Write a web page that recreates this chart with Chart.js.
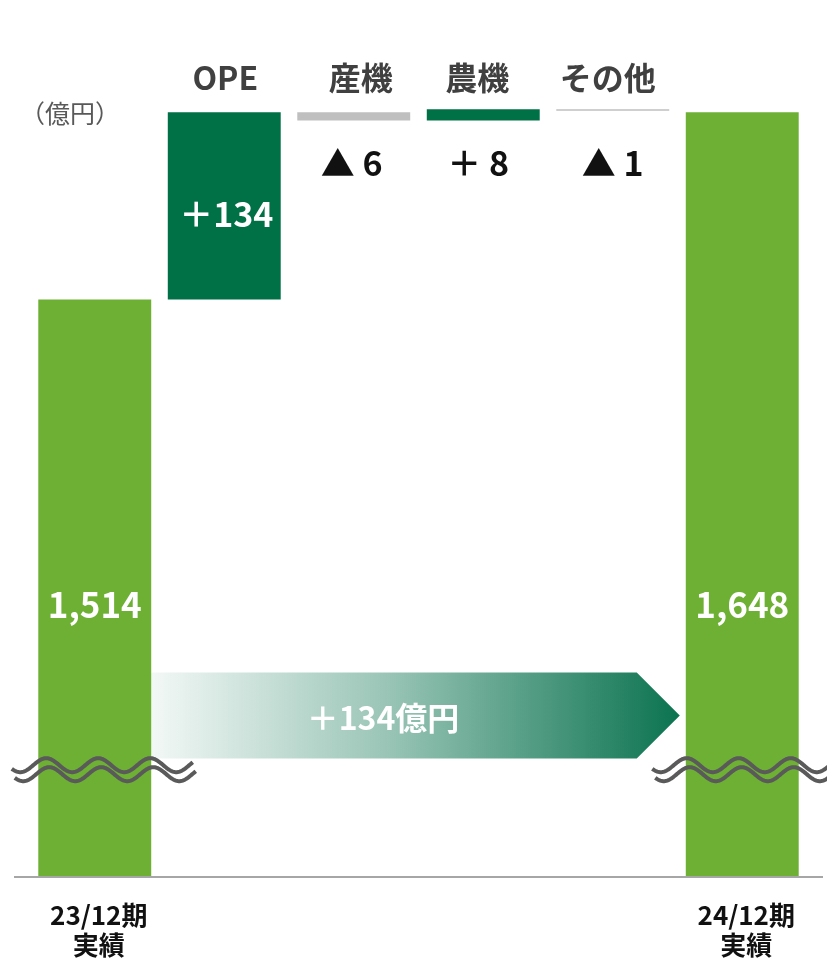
<!DOCTYPE html>
<html lang="ja">
<head>
<meta charset="utf-8">
<script src="https://cdn.jsdelivr.net/npm/chart.js@4"></script>
<style>
  body { margin: 0; background: #fff; }
  #wrap { width: 827px; height: 961px; position: relative; }
</style>
</head>
<body>
<div id="wrap"><canvas id="bridgeChart"></canvas></div>
<script>
// data (億円)
const categories = ['23/12期 実績', 'OPE', '産機', '農機', 'その他', '24/12期 実績'];
const startTotal = 1514;
const opeChange = 134;
const segmentChanges = [-6, 8, -1];          // 産機, 農機, その他
const endTotal = 1648;
const valueLabels = ['1,514', '＋134', '▲ 6', '＋ 8', '▲ 1', '1,648'];
const headerLabels = ['', 'OPE', '産機', '農機', 'その他', ''];
const axisMin = 1102;   // broken axis: bottom of the visible range
const axisMax = 1701;
const breakValue = 1178; // where the wavy break marks sit
const arrowText = '＋134億円';

const barColors = ['#6DB033', '#007047', '#BFBFBF', '#007047', '#BFBFBF', '#6DB033'];
const fontFamily = '"Noto Sans CJK JP", "Noto Sans", sans-serif';

// floating ranges: first and last bars stand on the axis, the rest float
const ranges = [[axisMin, startTotal], [startTotal, startTotal + opeChange]];
let level = startTotal + opeChange;
segmentChanges.forEach(c => {
    ranges.push([level, level + c]);
    level += c;
});
ranges.push([axisMin, endTotal]);

// small nudges so the text sits where the original put it
const headerShift = [0, 1, 7, -6, -5, 0];
const valueShift = [0, 0, -2, -5, 0, 0];

// draws labels, the gradient arrow, wavy break marks and the baseline
const decorPlugin = {
    id: 'decor',
    afterDatasetsDraw(chart) {
        const ctx = chart.ctx;
        const y = chart.scales.y;
        const bars = chart.getDatasetMeta(0).data;
        const area = chart.chartArea;

        // arrow between the two totals
        const aLeft = bars[0].x + bars[0].width / 2;
        const aRight = bars[5].x - bars[5].width / 2 - 6;
        const aTop = y.getPixelForValue(1247.5);
        const aBot = y.getPixelForValue(1186);
        const aMid = (aTop + aBot) / 2;
        const notch = aRight - (aMid - aTop);
        const grad = ctx.createLinearGradient(aLeft, 0, aRight, 0);
        grad.addColorStop(0, 'rgba(11,115,80,0.05)');
        grad.addColorStop(0.45, 'rgba(11,115,80,0.42)');
        grad.addColorStop(1, 'rgba(11,115,80,1)');
        ctx.save();
        ctx.fillStyle = grad;
        ctx.beginPath();
        ctx.moveTo(aLeft, aTop);
        ctx.lineTo(notch, aTop);
        ctx.lineTo(aRight, aMid);
        ctx.lineTo(notch, aBot);
        ctx.lineTo(aLeft, aBot);
        ctx.closePath();
        ctx.fill();
        ctx.fillStyle = '#fff';
        ctx.font = 'bold 32px ' + fontFamily;
        ctx.textAlign = 'center';
        ctx.textBaseline = 'middle';
        ctx.fillText(arrowText, (aLeft + notch) / 2 - 11, aMid + 2);
        ctx.restore();

        // wavy break marks over the total bars
        const by = y.getPixelForValue(breakValue);
        function wave(x0, x1, offset) {
            ctx.beginPath();
            for (let x = x0; x <= x1; x += 1) {
                const yy = by + offset + 7 * Math.cos(2 * Math.PI * (x - x0 - 8.5) / 52);
                if (x === x0) ctx.moveTo(x, yy); else ctx.lineTo(x, yy);
            }
            ctx.stroke();
        }
        ctx.save();
        ctx.strokeStyle = '#5A5A5A';
        ctx.lineWidth = 4;
        ctx.lineCap = 'butt';
        [[bars[0].x - 83, bars[0].x + 98], [bars[5].x - 90, bars[5].x + 90]].forEach(r => {
            wave(r[0], r[1], -4.5);
            wave(r[0] + 3, r[1] + 3, 4.5);
        });
        ctx.restore();

        // baseline
        ctx.save();
        ctx.strokeStyle = '#A6A6A6';
        ctx.lineWidth = 2;
        ctx.beginPath();
        ctx.moveTo(14, area.bottom + 1);
        ctx.lineTo(823, area.bottom + 1);
        ctx.stroke();
        ctx.restore();

        // text labels
        ctx.save();
        ctx.textAlign = 'center';
        ctx.textBaseline = 'middle';
        bars.forEach((bar, i) => {
            if (i === 0 || i === 5) {
                ctx.fillStyle = '#fff';
                ctx.font = 'bold 35px ' + fontFamily;
                ctx.fillText(valueLabels[i], bar.x, y.getPixelForValue(1296));
                const parts = categories[i].split(' ');
                ctx.fillStyle = '#111';
                ctx.font = 'bold 26px ' + fontFamily;
                ctx.fillText(parts[0], bar.x + 4, 915);
                ctx.fillText(parts[1], bar.x + 4, 945);
            } else if (i === 1) {
                ctx.fillStyle = '#fff';
                ctx.font = 'bold 34px ' + fontFamily;
                ctx.fillText(valueLabels[i], bar.x + 2, (bar.y + bar.base) / 2 + 8);
            } else {
                ctx.fillStyle = '#111';
                ctx.font = 'bold 34px ' + fontFamily;
                ctx.fillText(valueLabels[i], bar.x + valueShift[i], 163);
            }
            if (headerLabels[i]) {
                ctx.fillStyle = '#404040';
                ctx.font = 'bold 32px ' + fontFamily;
                ctx.fillText(headerLabels[i], bar.x + headerShift[i], 78);
            }
        });
        ctx.fillStyle = '#595959';
        ctx.font = '25px ' + fontFamily;
        ctx.fillText('（億円）', 70, 113);
        ctx.restore();
    }
};

new Chart(document.getElementById('bridgeChart'), {
    type: 'bar',
    data: {
        labels: categories,
        datasets: [{
            data: ranges,
            backgroundColor: barColors,
            borderWidth: 0,
            barPercentage: 0.872,
            categoryPercentage: 1
        }]
    },
    options: {
        responsive: true,
        maintainAspectRatio: false,
        animation: false,
        layout: { padding: { left: 30, right: 20, top: 38, bottom: 85 } },
        plugins: {
            legend: { display: false },
            tooltip: { enabled: false }
        },
        scales: {
            x: { display: false },
            y: { display: false, min: axisMin, max: axisMax }
        }
    },
    plugins: [decorPlugin]
});
</script>
</body>
</html>
